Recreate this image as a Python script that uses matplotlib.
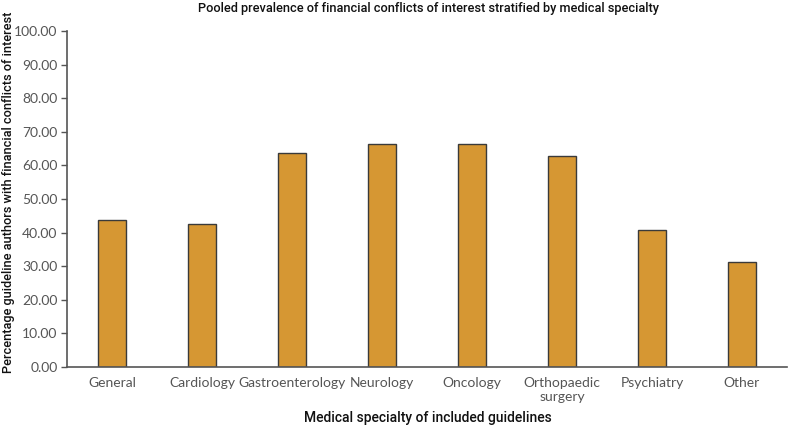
import matplotlib
matplotlib.use("Agg")
import matplotlib.pyplot as plt
import numpy as np

specialties = ['General', 'Cardiology', 'Gastroenterology', 'Neurology', 'Oncology',
               'Orthopaedic\nsurgery', 'Psychiatry', 'Other']
prevalence = [43.6, 42.6, 63.8, 66.5, 66.5, 62.9, 40.8, 31.2]
y_ticks = [0, 10, 20, 30, 40, 50, 60, 70, 80, 90, 100]

fig = plt.figure(figsize=(7.9, 4.26), dpi=100)
ax = fig.add_axes([0.085, 0.139, 0.911, 0.788])

x = np.arange(len(specialties))
ax.bar(x, prevalence, width=0.31, color='#D69733', edgecolor='#3a3a3a', linewidth=1.0)

tick_font = dict(fontfamily='Lato', fontweight='normal', fontsize=10, color='#555555')
ax.set_xlim(-0.5, 7.5)
ax.set_ylim(0, 100)
ax.set_yticks(y_ticks)
ax.set_yticklabels(['%.2f' % v for v in y_ticks], **tick_font)
ax.set_xticks(x)
ax.set_xticklabels(specialties, linespacing=1.25, **tick_font)
ax.tick_params(axis='x', length=0, pad=7)
ax.tick_params(axis='y', length=4, color='#555555', width=1, pad=3)

for side in ['top', 'right']:
    ax.spines[side].set_visible(False)
for side in ['left', 'bottom']:
    ax.spines[side].set_color('#555555')
    ax.spines[side].set_linewidth(1.2)

lab_font = dict(fontfamily='Roboto', fontweight='medium', color='#111111')
fig.text(0.543, 0.981, 'Pooled prevalence of financial conflicts of interest stratified by medical specialty',
         ha='center', va='center', fontsize=9.2, **lab_font)
fig.text(0.542, 0.018, 'Medical specialty of included guidelines',
         ha='center', va='center', fontsize=10, **lab_font)
fig.text(0.011, 0.548, 'Percentage guideline authors with financial conflicts of interest',
         ha='center', va='center', rotation=90, fontsize=9.2, **lab_font)

fig.savefig('out.png', dpi=100)
